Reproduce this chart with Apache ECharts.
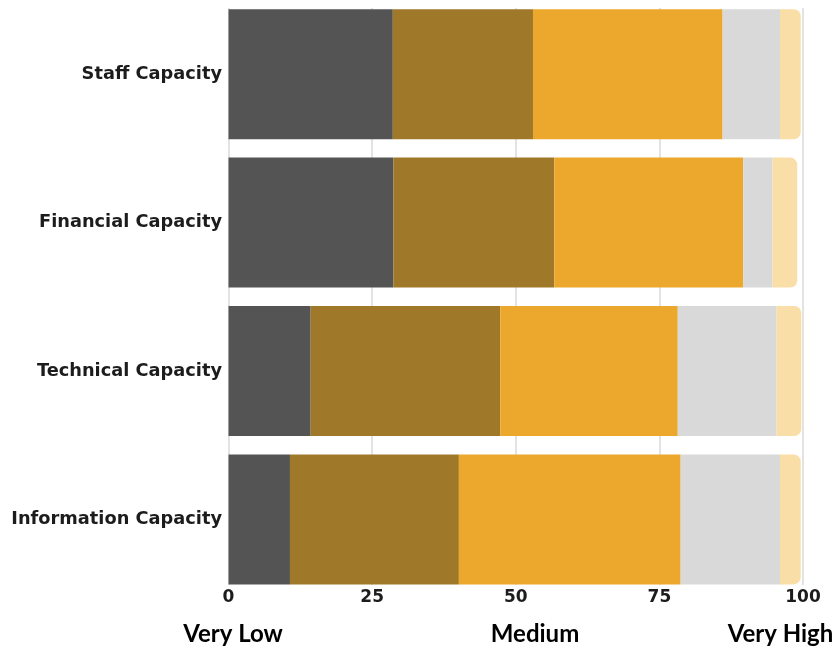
<!DOCTYPE html>
<html>
<head>
<meta charset="utf-8">
<style>
  html, body { margin: 0; padding: 0; background: #ffffff; }
  #chart { width: 838px; height: 649px; }
</style>
<script src="https://cdn.jsdelivr.net/npm/echarts@6/dist/echarts.min.js"></script>
</head>
<body>
<div id="chart"></div>
<script>
// Capacity dimensions, top to bottom
const categories = ['Staff Capacity', 'Financial Capacity', 'Technical Capacity', 'Information Capacity'];

// Share of respondents per rating level (percent)
const veryLow  = [28.6, 28.7, 14.3, 10.7];
const low      = [24.4, 28.0, 33.0, 29.4];
const medium   = [33.0, 32.9, 30.9, 38.6];
const high     = [10.0,  5.1, 17.2, 17.3];
const veryHigh = [ 3.6,  4.3,  4.3,  3.6];

const xTicks = [0, 25, 50, 75, 100];
const scaleLabels = ['Very Low', 'Medium', 'Very High'];

const levelColors = ['#545454', '#A0782A', '#EBA82C', '#D9D9D9', '#F9DEA7'];
const levels = [veryLow, low, medium, high, veryHigh];

const chart = echarts.init(document.getElementById('chart'));

const tickFont = { fontFamily: 'DejaVu Sans', fontWeight: 'bold', fontSize: 17, color: '#1c1c1c' };
const catFont = { fontFamily: 'DejaVu Sans', fontWeight: 'bold', fontSize: 17.8, color: '#1c1c1c' };

const series = levels.map((vals, i) => ({
  type: 'bar',
  stack: 'total',
  xAxisIndex: 1,
  yAxisIndex: 1,
  barWidth: 130,
  data: vals,
  itemStyle: {
    color: levelColors[i],
    borderRadius: i === levels.length - 1 ? [0, 7, 7, 0] : 0
  },
  emphasis: { disabled: true },
  silent: true
}));

// Scale anchors printed under the axis
const anchorX = [233, 535, 780.5];

chart.setOption({
  animation: false,
  backgroundColor: '#ffffff',
  grid: [
    // grid carrying the vertical reference lines and tick labels
    { left: 228.5, width: 574.5, top: 8, height: 577 },
    // grid carrying the stacked bars and category labels
    { left: 228.5, width: 574.5, top: -1.4, height: 595 }
  ],
  xAxis: [
    {
      gridIndex: 0,
      type: 'value',
      min: 0, max: 100, interval: 25,
      axisLine: { show: false },
      axisTick: { show: false },
      splitLine: { show: true, lineStyle: { color: '#e3e3e3', width: 2 } },
      axisLabel: {
        margin: 4,
        ...tickFont,
        formatter: v => (xTicks.includes(v) ? String(v) : '')
      }
    },
    {
      gridIndex: 1,
      type: 'value',
      min: 0, max: 100,
      show: false
    }
  ],
  yAxis: [
    {
      gridIndex: 0,
      type: 'category',
      data: categories,
      show: false
    },
    {
      gridIndex: 1,
      type: 'category',
      data: categories,
      inverse: true,
      axisLine: { show: false },
      axisTick: { show: false },
      splitLine: { show: false },
      axisLabel: { margin: 6.5, ...catFont }
    }
  ],
  series: series,
  graphic: scaleLabels.map((text, i) => ({
    type: 'text',
    x: anchorX[i],
    y: 634,
    style: {
      text: text,
      fill: '#000000',
      font: 'bold 24px Lato',
      textAlign: 'center',
      textVerticalAlign: 'middle'
    },
    silent: true
  }))
});
</script>
</body>
</html>
